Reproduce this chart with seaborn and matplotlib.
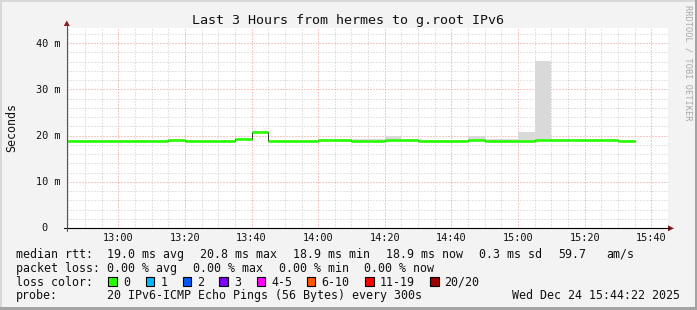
import numpy as np
import pandas as pd
import matplotlib
matplotlib.use("Agg")
import matplotlib.pyplot as plt
import matplotlib.transforms as mtransforms
from matplotlib.patches import Rectangle, Polygon
from matplotlib.lines import Line2D
import seaborn as sns

# ---------------- data ----------------
interval_start = ["12:40", "12:45", "12:50", "12:55", "13:00", "13:05", "13:10",
                  "13:15", "13:20", "13:25", "13:30", "13:35", "13:40", "13:45",
                  "13:50", "13:55", "14:00", "14:05", "14:10", "14:15", "14:20",
                  "14:25", "14:30", "14:35", "14:40", "14:45", "14:50", "14:55",
                  "15:00", "15:05", "15:10", "15:15", "15:20", "15:25", "15:30"]
median_ms = [18.9, 18.9, 18.9, 18.9, 18.9, 18.9, 18.9,
             19.1, 18.9, 18.9, 18.9, 19.2, 20.8, 18.9,
             18.9, 18.9, 19.0, 19.0, 18.9, 18.9, 19.1,
             19.1, 18.9, 18.9, 18.9, 19.1, 18.9, 18.9,
             18.9, 19.1, 19.0, 19.1, 19.1, 19.1, 18.9]
smoke_low_ms = [18.7, 18.7, 18.7, 18.7, 18.7, 18.7, 18.7,
                18.9, 18.7, 18.7, 18.7, 19.0, 20.6, 18.7,
                18.7, 18.7, 18.8, 18.8, 18.7, 18.7, 18.9,
                18.9, 18.7, 18.7, 18.7, 18.9, 18.7, 18.7,
                18.7, 18.9, 18.8, 18.9, 18.9, 18.9, 18.7]
smoke_high_ms = [19.1, 19.1, 19.1, 19.1, 19.1, 19.1, 19.1,
                 19.3, 19.1, 19.1, 19.1, 19.4, 21.0, 19.1,
                 19.1, 19.1, 19.2, 19.2, 19.3, 19.3, 19.9,
                 19.3, 19.1, 19.1, 19.1, 19.9, 19.3, 19.2,
                 20.7, 36.1, 19.3, 19.3, 19.3, 19.3, 19.1]

x_tick_labels = ["13:00", "13:20", "13:40", "14:00", "14:20", "14:40", "15:00", "15:20", "15:40"]
y_tick_values = [0, 10, 20, 30, 40]
y_tick_labels = ["0", "10 m", "20 m", "30 m", "40 m"]

loss_labels = ["0", "1", "2", "3", "4-5", "6-10", "11-19", "20/20"]
loss_colors = ["#26ff00", "#00b8ff", "#0059ff", "#7e00ff", "#ff00ff", "#ff5500", "#ff0000", "#a10000"]

rtt_stats = ["19.0 ms avg", "20.8 ms max", "18.9 ms min", "18.9 ms now", "0.3 ms sd", "59.7", "am/s"]
loss_stats = ["0.00 % avg", "0.00 % max", "0.00 % min", "0.00 % now"]
probe_text = "20 IPv6-ICMP Echo Pings (56 Bytes) every 300s"
timestamp = "Wed Dec 24 15:44:22 2025"
title = "Last 3 Hours from hermes to g.root IPv6"
y_label = "Seconds"
watermark = "RRDTOOL / TOBI OETIKER"

# ---------------- helpers ----------------
W, H = 697, 310


def tmin(s):
    h, m = s.split(":")
    return int(h) * 60 + int(m)


sns.set_theme(style="white")
plt.rcParams["font.family"] = ["DejaVu Sans Mono"]

fig = plt.figure(figsize=(W / 100, H / 100), dpi=100, facecolor="#f3f3f3")


def ftext(x, y, s, **kw):
    kw.setdefault("family", "DejaVu Sans Mono")
    kw.setdefault("color", "#111111")
    return fig.text(x / W, 1 - y / H, s, **kw)


# plot area: x 67..668 px, y 28..228 px
ax = fig.add_axes([67 / W, 1 - 228 / H, 601 / W, 200 / H])
ax.set_facecolor("white")

df = pd.DataFrame({
    "start": [tmin(s) for s in interval_start],
    "median": median_ms,
    "low": smoke_low_ms,
    "high": smoke_high_ms,
})
step = 5

x0 = tmin("13:00") - 51.3 / (600 / 180)
ax.set_xlim(x0, x0 + 601 * 180 / 600)
ax.set_ylim(0, 43.3)

# grid
major_x = [tmin(s) for s in x_tick_labels]
ax.set_xticks(major_x)
ax.set_xticks(np.arange(tmin("12:45"), tmin("15:50"), 5), minor=True)
ax.set_yticks(y_tick_values)
ax.set_yticks(np.arange(0, 44, 2), minor=True)
ax.grid(which="minor", color="#c8c8c8", linestyle=(0, (1, 2)), linewidth=0.72, zorder=0)
ax.grid(which="major", color="#ee9090", linestyle=(0, (1, 2)), linewidth=0.72, zorder=0)
ax.tick_params(which="both", length=0, labelbottom=False, labelleft=False)
for sp in ax.spines.values():
    sp.set_visible(False)
ax.set_axisbelow(True)

# smoke
ax.bar(df["start"], df["high"] - df["low"], bottom=df["low"], width=step, align="edge",
       color="#d9d9d9", linewidth=0, zorder=2)

# dark step connector line
step_df = pd.concat([df[["start", "median"]],
                     pd.DataFrame({"start": [df["start"].iloc[-1] + step],
                                   "median": [df["median"].iloc[-1]]})], ignore_index=True)
sns.lineplot(data=step_df, x="start", y="median", drawstyle="steps-post", color="#303030",
             linewidth=0.7, ax=ax, zorder=3, estimator=None, sort=True)
# green median segments (loss 0)
ax.hlines(df["median"], df["start"], df["start"] + step, color=loss_colors[0],
          linewidth=1.9, zorder=4)
ax.set_xlabel("")
ax.set_ylabel("")

# axes lines with arrows
fig.add_artist(Line2D([64 / W, 669 / W], [1 - 228.3 / H, 1 - 228.3 / H], color="black", lw=0.8))
fig.add_artist(Polygon([[668 / W, 1 - 225.3 / H], [674 / W, 1 - 228.3 / H], [668 / W, 1 - 231.3 / H]],
                       closed=True, color="#8b1a1a", lw=0))
fig.add_artist(Line2D([66.8 / W, 66.8 / W], [1 - 231 / H, 1 - 25 / H], color="#555555", lw=0.8))
fig.add_artist(Polygon([[63.8 / W, 1 - 26 / H], [66.8 / W, 1 - 20.5 / H], [69.8 / W, 1 - 26 / H]],
                       closed=True, color="#8b1a1a", lw=0))

# x tick labels
trans_x = mtransforms.blended_transform_factory(ax.transData, fig.transFigure)
for v, lab in zip(major_x, x_tick_labels):
    fig.text(v, 1 - 240.7 / H, lab, transform=trans_x, ha="center", va="baseline",
             size=7.4, family="DejaVu Sans Mono", color="#111111")

# y tick labels
trans_y = mtransforms.offset_copy(
    mtransforms.blended_transform_factory(fig.transFigure, ax.transData),
    fig=fig, x=0, y=-3.4, units="dots")
for v, lab in zip(y_tick_values, y_tick_labels):
    right = 60.5 if " " in lab else 47.0
    fig.text(right / W, v, lab, transform=trans_y, ha="right", va="baseline",
             size=7.4, family="DejaVu Sans Mono", color="#111111")

# title, axis label, watermark
ftext(347.5, 24, title, ha="center", va="baseline", size=9.6)
ftext(11.5, 127.5, y_label, rotation=90, ha="center", va="center", size=8.4)
ftext(688, 5, watermark, rotation=270, ha="center", va="top", size=6.2, color="#a8a8a8")

# legend
LS = 8.4
rows = [257.7, 271.7, 285.7, 299.3]
ftext(15.5, rows[0], "median rtt:", ha="left", va="baseline", size=LS)
for xx, s in zip([106.8, 199.5, 292.8, 385.5, 478.8, 557.8, 606.2], rtt_stats):
    ftext(xx, rows[0], s, ha="left", va="baseline", size=LS)

ftext(15.5, rows[1], "packet loss:", ha="left", va="baseline", size=LS)
for xx, s in zip([106.8, 192.8, 278.8, 364.5], loss_stats):
    ftext(xx, rows[1], s, ha="left", va="baseline", size=LS)

ftext(15.5, rows[2], "loss color:", ha="left", va="baseline", size=LS)
for xx, lab, col in zip([108.3, 145.7, 182.7, 219.3, 256.7, 306.7, 365.0, 430.0],
                        loss_labels, loss_colors):
    fig.add_artist(Rectangle((xx / W, 1 - 285.5 / H), 8.5 / W, 8.3 / H,
                             facecolor=col, edgecolor="black", lw=0.8))
    ftext(xx + 14.5, rows[2], lab, ha="left", va="baseline", size=LS)

ftext(15.5, rows[3], "probe:", ha="left", va="baseline", size=LS)
ftext(106.8, rows[3], probe_text, ha="left", va="baseline", size=LS)
ftext(680.5, rows[3], timestamp, ha="right", va="baseline", size=LS)

# frame shading
fig.add_artist(Rectangle((0, 1 - 1.5 / H), 1, 1.5 / H, color="#d8d8d8", lw=0))
fig.add_artist(Rectangle((0, 0), 1.5 / W, 1, color="#d8d8d8", lw=0))
fig.add_artist(Rectangle((0, 0), 1, 2.7 / H, color="#a3a3a3", lw=0))
fig.add_artist(Rectangle((1 - 2 / W, 0), 2 / W, 1, color="#a3a3a3", lw=0))

fig.savefig("out.png", dpi=100, facecolor=fig.get_facecolor())
